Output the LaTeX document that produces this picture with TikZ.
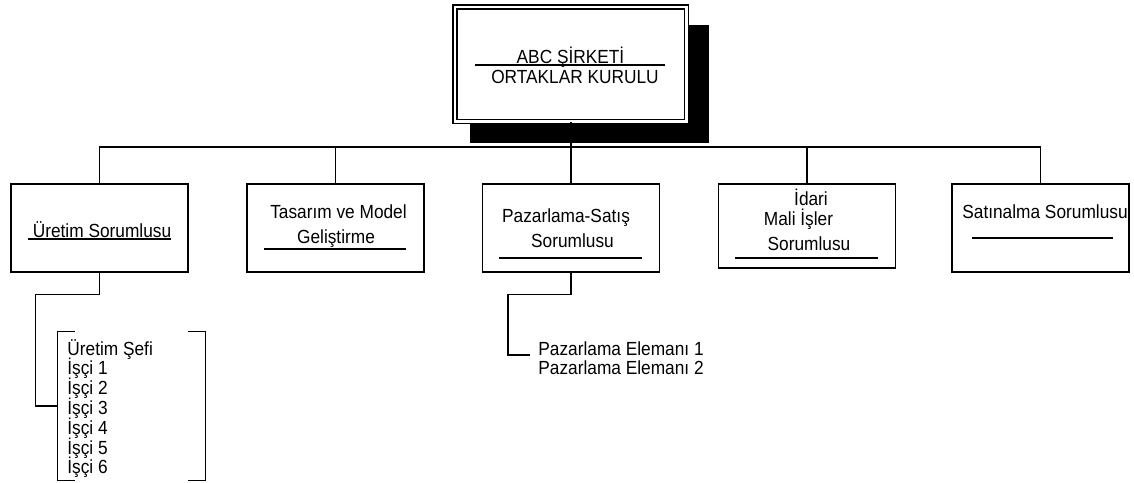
\documentclass[tikz,border=0pt]{standalone}
\usepackage{fontspec}
\setmainfont{Liberation Sans}[FakeStretch=0.91]
\usetikzlibrary{shadows}

\begin{document}
\begin{tikzpicture}[x=0.5pt,y=-0.5pt,
    every node/.style={font=\fontsize{9.5pt}{10pt}\selectfont},
    unit/.style={draw,line width=0.8pt,minimum width=88.5pt,minimum height=44pt,inner sep=0pt,anchor=north},
    lbl/.style={inner sep=0pt,anchor=base},
    item/.style={inner sep=0pt,anchor=base west},
    link/.style={line width=0.8pt},
    rule/.style={line width=0.6pt}]
  \useasboundingbox (0,0) rectangle (1134,482);
  % board of partners
  \node[draw,double,line width=0.7pt,double distance=1.3pt,fill=white,
        minimum width=115.75pt,minimum height=57.25pt,inner sep=0pt,
        drop shadow={shadow xshift=9pt,shadow yshift=-9.5pt,shadow scale=1.03,fill=black,opacity=1}]
        (kurul) at (570.75,64.25) {};
  \node[lbl] (baslik1) at (570.5,63) {ABC ŞİRKETİ};
  \node[lbl] (baslik2) at (575,83) {ORTAKLAR KURULU};
  \draw[rule] (475,65) -- (665,65);

  % departments
  \node[unit] (uretim) at (99.5,183) {};
  \node[unit] (tasarim) at (335.5,183) {};
  \node[unit] (pazarlama) at (571,183) {};
  \node[unit,minimum height=42pt] (idari) at (807,183) {};
  \node[unit] (satinalma) at (1040.5,183) {};

  \coordinate (bus) at (0,147);
  \draw[link] (uretim.north) -- (uretim.north |- bus) -- (satinalma.north |- bus) -- (satinalma.north);
  \foreach \n in {tasarim,pazarlama,idari}
    \draw[link] (\n.north) -- (\n.north |- bus);
  \draw[link] (kurul.south) -- (kurul.south |- bus);

  \node[lbl] (t1) at (102,237) {Üretim Sorumlusu};
  \draw[rule] (28,239) -- (171,239);
  \node[lbl] (t2a) at (338.5,218) {Tasarım ve Model};
  \node[lbl] (t2b) at (336,243) {Geliştirme};
  \draw[rule] (264,249) -- (406,249);
  \node[lbl] (t3a) at (566,222) {Pazarlama-Satış};
  \node[lbl] (t3b) at (572.5,247) {Sorumlusu};
  \draw[rule] (499,258) -- (642,258);
  \node[lbl] (t4a) at (811,205) {İdari};
  \node[lbl] (t4b) at (798.5,225) {Mali İşler};
  \node[lbl] (t4c) at (809,250) {Sorumlusu};
  \draw[rule] (735,258) -- (878,258);
  \node[lbl] (t5) at (1045,218) {Satınalma Sorumlusu};
  \draw[rule] (972,238) -- (1113,238);

  % production staff
  \node[minimum width=73.5pt,minimum height=74pt,inner sep=0pt] (isciler) at (131.5,406) {};
  \draw[link] ([xshift=8.5pt]isciler.north west) -- (isciler.north west) -- (isciler.south west) -- ([xshift=8.5pt]isciler.south west);
  \draw[link] ([xshift=-8.5pt]isciler.north east) -- (isciler.north east) -- (isciler.south east) -- ([xshift=-8.5pt]isciler.south east);
  \foreach \t [count=\i from 0] in {Üretim Şefi,İşçi 1,İşçi 2,İşçi 3,İşçi 4,İşçi 5,İşçi 6}
    \node[item] (isci\i) at (67,355+19.8*\i) {\t};
  \draw[link] (uretim.south) -- ++(0,22) -| ([xshift=-11pt]isciler.west) -- (isciler.west);

  % sales staff
  \node[item] (eleman1) at (538,355) {Pazarlama Elemanı 1};
  \node[item] (eleman2) at (538,374) {Pazarlama Elemanı 2};
  \draw[link] (pazarlama.south) -- ++(0,22) -| ([xshift=-15pt]eleman1.base west) -- ([xshift=-4pt]eleman1.base west);
\end{tikzpicture}
\end{document}
